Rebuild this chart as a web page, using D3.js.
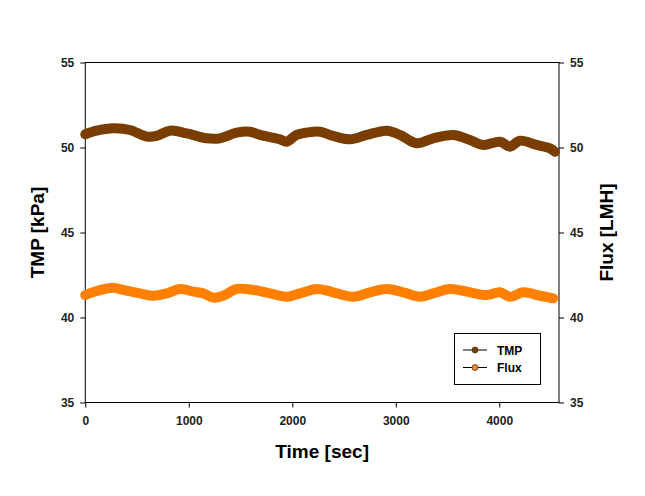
<!DOCTYPE html>
<html><head><meta charset="utf-8">
<script src="https://cdn.jsdelivr.net/npm/d3@7"></script>
<style>body{margin:0;background:#fff}text{font-family:"Liberation Sans",Arial,sans-serif}</style>
</head><body><svg id="c" width="645" height="496"></svg>
<script>
const tmpTime = [0,110,271,432,593,690,818,980,1173,1301,1463,1591,1688,1881,1946,2042,2203,2268,2396,2557,2719,2912,3041,3202,3362,3556,3717,3845,4007,4103,4200,4361,4490,4538];
const tmpVals = [50.78,50.99,51.13,51.03,50.64,50.68,50.99,50.83,50.54,50.54,50.87,50.93,50.74,50.48,50.34,50.74,50.93,50.93,50.68,50.48,50.74,50.99,50.74,50.25,50.54,50.74,50.44,50.15,50.34,50.05,50.40,50.15,49.95,49.75];
const fluxTime = [0,110,271,367,528,657,786,915,1044,1140,1237,1333,1463,1623,1785,1946,2074,2236,2348,2396,2589,2751,2912,3073,3234,3362,3524,3685,3878,4007,4103,4232,4393,4522];
const fluxVals = [41.32,41.56,41.75,41.62,41.42,41.28,41.42,41.68,41.52,41.42,41.17,41.28,41.68,41.62,41.42,41.22,41.42,41.68,41.56,41.48,41.22,41.48,41.68,41.48,41.22,41.42,41.68,41.52,41.32,41.48,41.22,41.48,41.28,41.13];
const xTicks = [0,1000,2000,3000,4000];
const yTicks = [35,40,45,50,55];
const seriesNames = ["TMP","Flux"];

const svg = d3.select("#c");
const L=85.3, R=559, T=62.5, B=402.5;
const x = d3.scaleLinear().domain([0,4577]).range([L,R]);
const y = d3.scaleLinear().domain([35,55]).range([B,T]);

svg.append("rect").attr("x",L).attr("y",T).attr("width",R-L).attr("height",B-T)
  .attr("fill","none").attr("stroke","#000").attr("stroke-width",1);

function styleAxis(g){
  g.select(".domain").remove();
  g.selectAll("text").attr("font-size",12).attr("font-weight","bold").attr("fill","#222");
}
svg.append("g").attr("transform",`translate(${L},0)`)
  .call(d3.axisLeft(y).tickValues(yTicks).tickFormat(d3.format("d")).tickSize(5).tickPadding(6)).call(styleAxis);
svg.append("g").attr("transform",`translate(${R},0)`)
  .call(d3.axisRight(y).tickValues(yTicks).tickFormat(d3.format("d")).tickSize(5).tickPadding(6)).call(styleAxis);
svg.append("g").attr("transform",`translate(0,${B})`)
  .call(d3.axisBottom(x).tickValues(xTicks).tickFormat(d3.format("d")).tickSize(5).tickPadding(9)).call(styleAxis);

const line = d3.line().x(d=>x(d[0])).y(d=>y(d[1])).curve(d3.curveCatmullRom);
const tmpData = tmpTime.map((t,i)=>[t,tmpVals[i]]);
const fluxData = fluxTime.map((t,i)=>[t,fluxVals[i]]);
svg.append("path").datum(tmpData).attr("d",line).attr("fill","none")
  .attr("stroke","#7a3d00").attr("stroke-width",10).attr("stroke-linecap","round").attr("stroke-linejoin","round");
svg.append("path").datum(fluxData).attr("d",line).attr("fill","none")
  .attr("stroke","#ff8000").attr("stroke-width",10).attr("stroke-linecap","round").attr("stroke-linejoin","round");

// axis titles
svg.append("text").attr("transform",`translate(44,${(T+B)/2}) rotate(-90)`).attr("text-anchor","middle")
  .attr("font-size",19).attr("font-weight","bold").text("TMP [kPa]");
svg.append("text").attr("transform",`translate(613,${(T+B)/2}) rotate(-90)`).attr("text-anchor","middle")
  .attr("font-size",19).attr("font-weight","bold").text("Flux [LMH]");
svg.append("text").attr("x",(L+R)/2).attr("y",458).attr("text-anchor","middle")
  .attr("font-size",19).attr("font-weight","bold").text("Time [sec]");

// legend
const lg = svg.append("g");
lg.append("rect").attr("x",454.5).attr("y",333.5).attr("width",86).attr("height",51).attr("fill","#fff").attr("stroke","#000");
const fills=["#7a3d00","#e88a3a"];
seriesNames.forEach((n,i)=>{
  const yy = 350 + i*17.5;
  lg.append("line").attr("x1",463).attr("x2",487).attr("y1",yy).attr("y2",yy).attr("stroke","#000");
  lg.append("circle").attr("cx",475).attr("cy",yy).attr("r",3).attr("fill",fills[i]).attr("stroke","#5a2d00").attr("stroke-width",0.8);
  lg.append("text").attr("x",497).attr("y",yy+4.5).attr("font-size",12).attr("font-weight","bold").text(n);
});
</script></body></html>
